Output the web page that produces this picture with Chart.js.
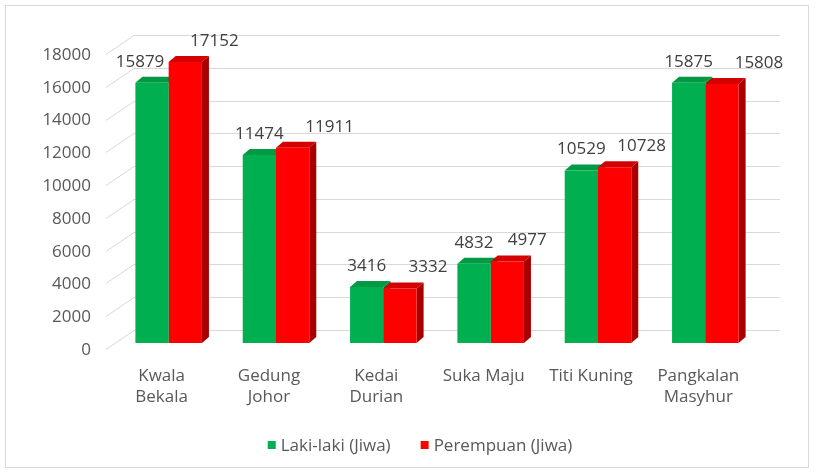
<!DOCTYPE html>
<html>
<head>
<meta charset="utf-8">
<script src="https://cdn.jsdelivr.net/npm/chart.js@4.4.1/dist/chart.umd.min.js"></script>
<style>
  html, body { margin: 0; padding: 0; background: #fff; }
  #wrap { width: 817px; height: 476px; position: relative; }
</style>
</head>
<body>
<div id="wrap"><canvas id="chart"></canvas></div>
<script>
const categories = [['Kwala', 'Bekala'], ['Gedung', 'Johor'], ['Kedai', 'Durian'], 'Suka Maju', 'Titi Kuning', ['Pangkalan', 'Masyhur']];
const lakiLaki = [15879, 11474, 3416, 4832, 10529, 15875];
const perempuan = [17152, 11911, 3332, 4977, 10728, 15808];
const seriesNames = ['Laki-laki (Jiwa)', 'Perempuan (Jiwa)'];
const yTicks = [0, 2000, 4000, 6000, 8000, 10000, 12000, 14000, 16000, 18000];

const FONT = '"Open Sans", "Liberation Sans", sans-serif';
const front = ['#00b050', '#ff0000'];
const side = ['#007a36', '#a80000'];
const top3d = ['#009944', '#d40000'];
const depth = {dx: 7, dy: -6};
const wall = {dx: 28, dy: -13, left: 106, right: 780};
// label nudges (px) so the numbers sit where the original put them
const labelShift = [[-12, 0, 0, 0, 0, 0], [29, 37, 28, 20, 27, 37]];

const bars3d = {
  id: 'bars3d',
  beforeDraw(chart) {
    const c = chart.ctx;
    c.save();
    c.fillStyle = '#fff';
    c.fillRect(0, 0, chart.width, chart.height);
    c.strokeStyle = '#d9d9d9';
    c.lineWidth = 1;
    c.strokeRect(5.5, 5.5, 803, 462);
    c.restore();
  },
  beforeDatasetsDraw(chart) {
    const c = chart.ctx, y = chart.scales.y;
    c.save();
    c.strokeStyle = '#d9d9d9';
    c.lineWidth = 1;
    yTicks.forEach(v => {
      const py = Math.round(y.getPixelForValue(v)) + 0.5;
      c.beginPath();
      c.moveTo(wall.left, py + 6);
      c.lineTo(wall.left + wall.dx, py + wall.dy);
      c.lineTo(wall.right, py + wall.dy);
      c.stroke();
    });
    chart.data.datasets.forEach((ds, di) => {
      chart.getDatasetMeta(di).data.forEach(b => {
        const l = b.x - b.width / 2, r = b.x + b.width / 2;
        c.fillStyle = side[di];
        c.beginPath();
        c.moveTo(r, b.y); c.lineTo(r + depth.dx, b.y + depth.dy);
        c.lineTo(r + depth.dx, b.base + depth.dy); c.lineTo(r, b.base);
        c.closePath(); c.fill();
        c.fillStyle = top3d[di];
        c.beginPath();
        c.moveTo(l, b.y); c.lineTo(l + depth.dx, b.y + depth.dy);
        c.lineTo(r + depth.dx, b.y + depth.dy); c.lineTo(r, b.y);
        c.closePath(); c.fill();
      });
    });
    c.restore();
  },
  afterDatasetsDraw(chart) {
    const c = chart.ctx;
    c.save();
    c.font = '17px ' + FONT;
    c.fillStyle = '#404040';
    c.textAlign = 'center';
    c.textBaseline = 'middle';
    chart.data.datasets.forEach((ds, di) => {
      chart.getDatasetMeta(di).data.forEach((b, i) => {
        c.fillText(String(ds.data[i]), b.x + labelShift[di][i], b.y - 21);
      });
    });
    // legend
    const gap = 5, box = 8, between = 30, cy = 445;
    const widths = seriesNames.map(n => c.measureText(n).width);
    const total = widths.reduce((s, w) => s + box + gap + w, 0) + between;
    let x = 420 - total / 2;
    c.textAlign = 'left';
    seriesNames.forEach((n, i) => {
      c.fillStyle = front[i];
      c.fillRect(x, cy - box / 2, box, box);
      c.fillStyle = '#595959';
      c.fillText(n, x + box + gap, cy + 1);
      x += box + gap + widths[i] + between;
    });
    c.restore();
  }
};

new Chart(document.getElementById('chart'), {
  type: 'bar',
  data: {
    labels: categories,
    datasets: [
      {label: seriesNames[0], data: lakiLaki, backgroundColor: front[0]},
      {label: seriesNames[1], data: perempuan, backgroundColor: front[1]}
    ]
  },
  options: {
    responsive: true,
    maintainAspectRatio: false,
    animation: false,
    events: [],
    categoryPercentage: 0.62,
    barPercentage: 1,
    layout: {padding: {left: 0, right: 58, top: 48, bottom: 476 - 343 - 70}},
    plugins: {legend: {display: false}, tooltip: {enabled: false}},
    scales: {
      x: {
        grid: {display: false, drawTicks: false},
        border: {display: false},
        afterFit: s => { s.height = 70; },
        ticks: {
          color: '#595959', font: {family: FONT, size: 17, lineHeight: 1.24},
          padding: 23, labelOffset: -7, maxRotation: 0, autoSkip: false
        }
      },
      y: {
        min: 0, max: 18000,
        grid: {display: false, drawTicks: false},
        border: {display: false},
        afterFit: s => { s.width = 115; },
        afterBuildTicks: s => { s.ticks = yTicks.map(v => ({value: v})); },
        ticks: {
          color: '#595959', font: {family: FONT, size: 17},
          padding: 24, labelOffset: 7,
          callback: v => String(v)
        }
      }
    }
  },
  plugins: [bars3d]
});
</script>
</body>
</html>
